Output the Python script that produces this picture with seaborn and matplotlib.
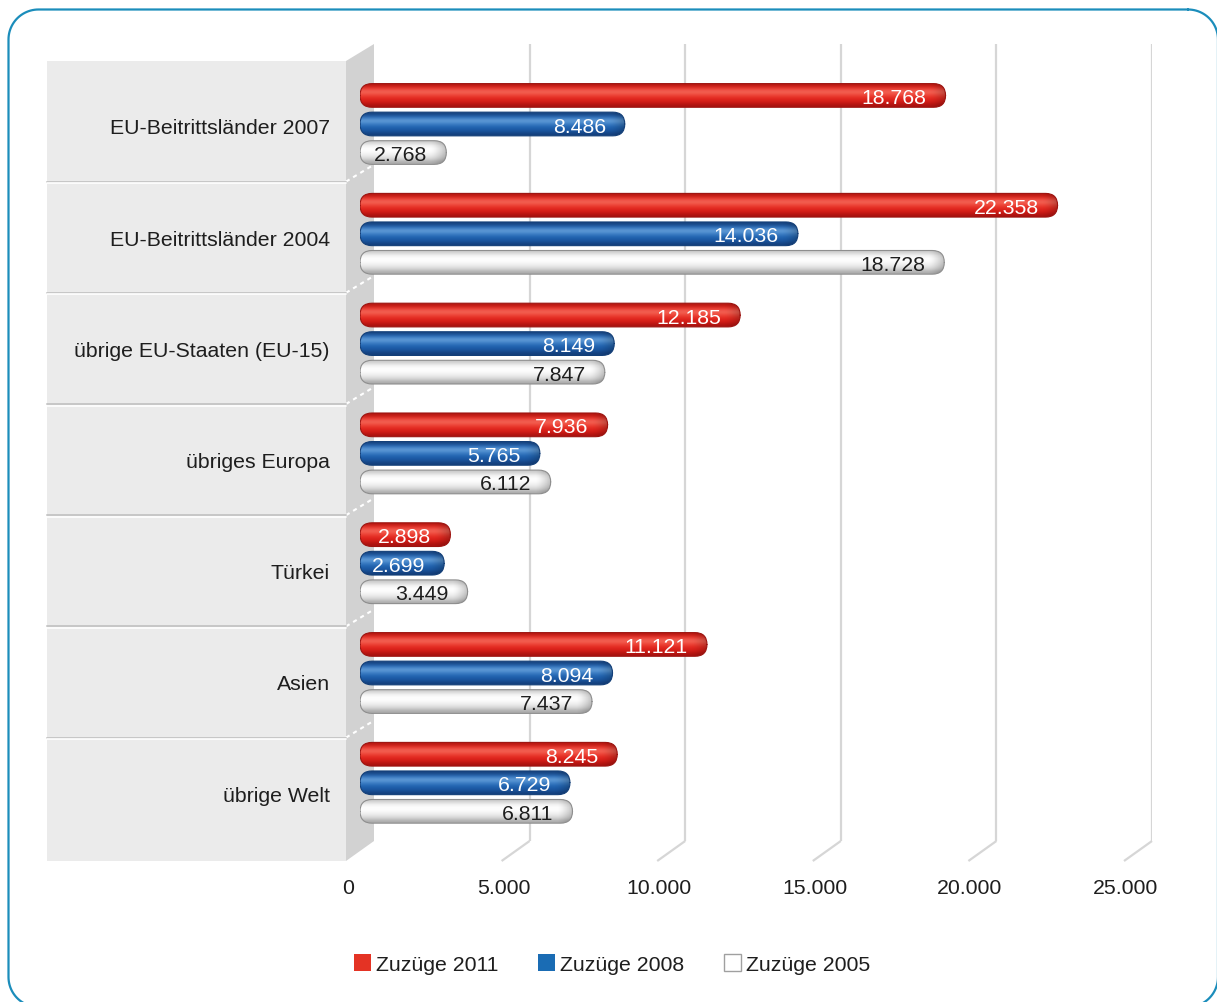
import numpy as np
import pandas as pd
import seaborn as sns
import matplotlib.pyplot as plt
from matplotlib.patches import FancyBboxPatch, Polygon, Rectangle, Patch
from matplotlib.transforms import blended_transform_factory, offset_copy

# --- data -------------------------------------------------------------
regions = [
    "EU-Beitrittsländer 2007",
    "EU-Beitrittsländer 2004",
    "übrige EU-Staaten (EU-15)",
    "übriges Europa",
    "Türkei",
    "Asien",
    "übrige Welt",
]
zuzuege_2011 = [18768, 22358, 12185, 7936, 2898, 11121, 8245]
zuzuege_2008 = [8486, 14036, 8149, 5765, 2699, 8094, 6729]
zuzuege_2005 = [2768, 18728, 7847, 6112, 3449, 7437, 6811]
series_names = ["Zuzüge 2011", "Zuzüge 2008", "Zuzüge 2005"]
x_ticks = [0, 5000, 10000, 15000, 20000, 25000]


def de_num(v):
    return f"{v:,}".replace(",", ".")


df = pd.DataFrame({
    "Region": regions * 3,
    "Serie": np.repeat(series_names, len(regions)),
    "Zuzüge": zuzuege_2011 + zuzuege_2008 + zuzuege_2005,
})

# --- styling ----------------------------------------------------------
sns.set_theme(style="white")
plt.rcParams["font.family"] = ["Liberation Sans", "DejaVu Sans"]
plt.rcParams["text.color"] = "#1e1e1e"
FS = 15.3

base_colors = ["#e2271f", "#1c64b0", "#f2f2f2"]
legend_colors = ["#e43324", "#1a6cb4", "#ffffff"]
edge_colors = ["#9c1410", "#133f78", "#8e8e8e"]
text_colors = ["white", "white", "#1e1e1e"]
# vertical shading across each cylinder (top -> bottom)
gradients = [
    ["#b5160f", "#e8352c", "#f46a5c", "#ee4538", "#e2271f", "#d31d16", "#a81210"],
    ["#17437f", "#2a6cb8", "#6aa3dc", "#3a7cc4", "#1f62ae", "#1a55a0", "#143f7a"],
    ["#c9c9c9", "#f2f2f2", "#ffffff", "#fbfbfb", "#ececec", "#d6d6d6", "#a9a9a9"],
]

W, H, DPI = 1217, 1003, 100
fig = plt.figure(figsize=(W / DPI, H / DPI), dpi=DPI, facecolor="white")


def frame(x0, y0, x1, y1):
    """Axes rectangle given in pixel coordinates measured from the top left."""
    return [x0 / W, 1 - y1 / H, (x1 - x0) / W, (y1 - y0) / H]


# background layer in pixel coordinates
ax_bg = fig.add_axes([0, 0, 1, 1], zorder=0)
ax_bg.set_xlim(0, W)
ax_bg.set_ylim(H, 0)
ax_bg.axis("off")

# back wall (gridlines), bar plane, and front plane (labels)
ax_back = fig.add_axes(frame(374, 45, 1152, 842), zorder=1)
ax = fig.add_axes(frame(360, 53, 1140, 852), zorder=3)
ax_front = fig.add_axes(frame(348, 62, 1125.5, 862), zorder=2)
for a in (ax_back, ax, ax_front):
    a.patch.set_visible(False)
    for s in a.spines.values():
        s.set_visible(False)
    a.set_xlim(0, 25000)


def rounded_outline(x0, y0, x1, y1, r, n=24):
    """Closed polyline of a rounded rectangle (y grows downwards)."""
    xs, ys = [], []
    corners = [(x1 - r, y0 + r, -90, 0), (x1 - r, y1 - r, 0, 90),
               (x0 + r, y1 - r, 90, 180), (x0 + r, y0 + r, 180, 270)]
    for cx, cy, a0, a1 in corners:
        t = np.radians(np.linspace(a0, a1, n))
        xs.extend(cx + r * np.cos(t))
        ys.extend(cy + r * np.sin(t))
    xs.append(xs[0])
    ys.append(ys[0])
    return xs, ys


# rounded outer frame (bottom and right run just past the edge)
bx, by = rounded_outline(8.5, 10.5, 1218, 1008, 30)
ax_bg.plot(bx, by, color="#1b8dbb", lw=1.6, zorder=10)

# left label panel and side wall
ax_bg.add_patch(Rectangle((47, 62), 299, 800, fc="#ebebeb", ec="none"))
ax_bg.add_patch(Polygon([(346, 62), (374, 45), (374, 842), (346, 862)], closed=True,
                        fc="#d2d2d2", ec="none"))

# back-wall gridlines and their floor continuation
ax_back.set_ylim(0, 1)
ax_back.set_xticks(x_ticks[1:])
ax_back.tick_params(length=0, labelbottom=False, labelleft=False)
ax_back.set_yticks([])
ax_back.grid(axis="x", color="#d6d6d6", lw=1.6)
for t in x_ticks[1:]:
    xb = ax_bg.transData.inverted().transform(ax_back.transData.transform((t, 0)))[0]
    ax_bg.plot([xb, xb - 28], [842, 862], color="#d6d6d6", lw=1.6, solid_capstyle="butt")

# --- bars -------------------------------------------------------------
sns.barplot(data=df, y="Region", x="Zuzüge", hue="Serie", order=regions, hue_order=series_names,
            palette=base_colors, orient="h", width=0.78, gap=0.17, legend=False, ax=ax)
ax.set_xlim(0, 25000)
y_top, y_bot = (53 - 125) / 109.8, (852 - 125) / 109.8
ax.set_ylim(y_bot, y_top)
ax.set_xlabel("")
ax.set_ylabel("")
ax.set_xticks([])
ax.set_yticks([])

# px -> data scale factors for rounded caps
x_per_px = 25000 / 780
y_per_px = 1 / 109.8
radius_px = 12

values_by_series = [zuzuege_2011, zuzuege_2008, zuzuege_2005]
for si, container in enumerate(ax.containers):
    for ri, rect in enumerate(container.patches):
        x0, y0 = rect.get_x(), rect.get_y()
        w, h = rect.get_width(), rect.get_height()
        rect.remove()
        r = radius_px * x_per_px
        box = FancyBboxPatch((x0, y0), w, h,
                             boxstyle=f"round,pad=0,rounding_size={r}",
                             mutation_aspect=(radius_px * y_per_px) / r,
                             fc="none", ec="none", zorder=2)
        ax.add_patch(box)
        grad = np.array([plt.matplotlib.colors.to_rgb(c) for c in gradients[si]])
        img = ax.imshow(grad[:, None, :], extent=(x0, x0 + w, y0 + h, y0), origin="upper",
                        aspect="auto", interpolation="bicubic", zorder=2)
        img.set_clip_path(box)
        # darker rounded end cap
        cap = np.zeros((1, 32, 4))
        cap[..., 3] = np.linspace(0, 0.38, 32) ** 1.5
        capimg = ax.imshow(cap, extent=(x0 + w - 16 * x_per_px, x0 + w, y0 + h, y0),
                           origin="upper", aspect="auto", interpolation="bilinear", zorder=2.1)
        capimg.set_clip_path(box)
        outline = FancyBboxPatch((x0, y0), w, h,
                                 boxstyle=f"round,pad=0,rounding_size={r}",
                                 mutation_aspect=(radius_px * y_per_px) / r,
                                 fc="none", ec=edge_colors[si], lw=0.8, zorder=2.2)
        ax.add_patch(outline)
        v = values_by_series[si][ri]
        ax.annotate(de_num(v), xy=(v, y0 + h / 2), xytext=(-19 * 0.72, 0),
                    textcoords="offset points", ha="right", va="center_baseline",
                    fontsize=FS, color=text_colors[si], zorder=3)

ax.set_xlim(0, 25000)
ax.set_ylim(y_bot, y_top)

# --- front plane: category labels, separators, value axis ----------------
f_top, f_bot = (62 - 127) / 111.2, (862 - 127) / 111.2
ax_front.set_ylim(f_bot, f_top)
ax_front.set_yticks(range(len(regions)))
ax_front.set_yticklabels(regions, fontsize=FS, color="#1e1e1e")
ax_front.set_xticks(x_ticks)
ax_front.set_xticklabels([de_num(t) for t in x_ticks], fontsize=FS, color="#1e1e1e")
ax_front.tick_params(axis="y", length=0, pad=18 * 0.72)
ax_front.tick_params(axis="x", length=0, pad=17 * 0.72)

sep_tr = blended_transform_factory(ax_bg.transData, ax_front.transData)
for i in range(len(regions) - 1):
    ys = i + 0.5
    ax_front.plot([47, 346], [ys, ys], transform=sep_tr, color="#c6c6c6", lw=1.4,
                  clip_on=False, zorder=1)
    ax_front.plot([47, 346], [ys, ys], transform=offset_copy(sep_tr, fig, y=-1.5, units="dots"),
                  color="white", lw=1.2, clip_on=False, zorder=1)
    y_px = ax_bg.transData.inverted().transform(ax_front.transData.transform((0, ys)))[1]
    ax_bg.plot([346, 374], [y_px, y_px - 17], color="white", lw=1.5, ls=(0, (2, 2)))

# --- legend -----------------------------------------------------------
handles = [Patch(fc=legend_colors[0], ec="none"),
           Patch(fc=legend_colors[1], ec="none"),
           Patch(fc=legend_colors[2], ec="#a0a0a0", lw=1)]
fig.legend(handles, series_names, loc="center", bbox_to_anchor=(612 / W, 1 - 965 / H),
           ncol=3, frameon=False, fontsize=FS, handlelength=0.8, handleheight=0.8,
           handletextpad=0.25, columnspacing=1.85)

fig.savefig("out.png", dpi=DPI, facecolor="white")
